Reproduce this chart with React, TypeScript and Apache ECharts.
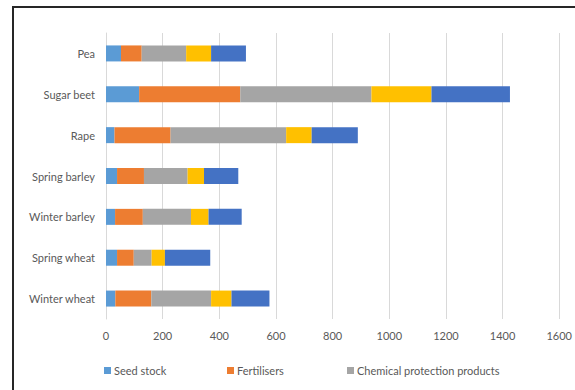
import React, { useEffect, useRef } from "react";
import * as echarts from "echarts";

const categories = ["Winter wheat", "Spring wheat", "Winter barley", "Spring barley", "Rape", "Sugar beet", "Pea"];
const seriesNames = ["Seed stock", "Fertilisers", "Chemical protection products", "Fuel", "Other costs"];
const seedStock = [33, 39, 32, 39, 30, 117, 53];
const fertilisers = [127, 59, 98, 95, 198, 357, 73];
const chemical = [211, 63, 170, 154, 408, 463, 157];
const fuel = [72, 47, 62, 58, 90, 212, 88];
const other = [134, 160, 117, 121, 163, 277, 123];
const xTicks = { min: 0, max: 1600, interval: 200 };
const colors = ["#5B9BD5", "#ED7D31", "#A5A5A5", "#FFC000", "#4472C4"];

export default function App() {
  const ref = useRef<HTMLDivElement>(null);
  useEffect(() => {
    if (!ref.current) return;
    const chart = echarts.init(ref.current, null, { renderer: "svg" });
    const values = [seedStock, fertilisers, chemical, fuel, other];
    const font = "Lato, 'Open Sans', sans-serif";
    const legendLefts = [104, 227, 347];
    chart.setOption({
      animation: false,
      backgroundColor: "#ffffff",
      textStyle: { fontFamily: font },
      grid: { left: 106, right: 12, top: 33, bottom: 71, containLabel: false },
      xAxis: {
        type: "value",
        min: xTicks.min,
        max: xTicks.max,
        interval: xTicks.interval,
        axisLine: { show: false },
        axisTick: { show: false },
        axisLabel: {
          color: "#595959",
          fontSize: 11,
          margin: 11,
          fontFamily: font,
          formatter: (v: number) => String(v),
        },
        splitLine: { lineStyle: { color: "#D9D9D9", width: 1 } },
      },
      yAxis: {
        type: "category",
        data: categories,
        axisLine: { show: true, lineStyle: { color: "#D9D9D9" } },
        axisTick: { show: false },
        axisLabel: { color: "#595959", fontSize: 11, margin: 11, fontFamily: font },
      },
      legend: legendLefts.map((l, i) => ({
        data: [seriesNames[i]],
        left: l,
        top: 365,
        itemWidth: 7,
        itemHeight: 7,
        itemGap: 0,
        icon: "rect",
        padding: 0,
        textStyle: { color: "#595959", fontSize: 11, fontFamily: font, padding: [0, 0, 0, -2] },
      })),
      graphic: [
        {
          type: "rect",
          shape: { x: 13, y: 7, width: 700, height: 500 },
          style: { fill: "none", stroke: "#262626", lineWidth: 2 },
          silent: true,
        },
      ],
      series: seriesNames.map((name, i) => ({
        name,
        type: "bar",
        stack: "total",
        barWidth: 16,
        data: values[i],
        itemStyle: { color: colors[i] },
      })),
    });
    return () => chart.dispose();
  }, []);
  return (
    <div
      ref={ref}
      style={{ position: "absolute", left: 0, top: 0, width: 575, height: 390 }}
    />
  );
}
